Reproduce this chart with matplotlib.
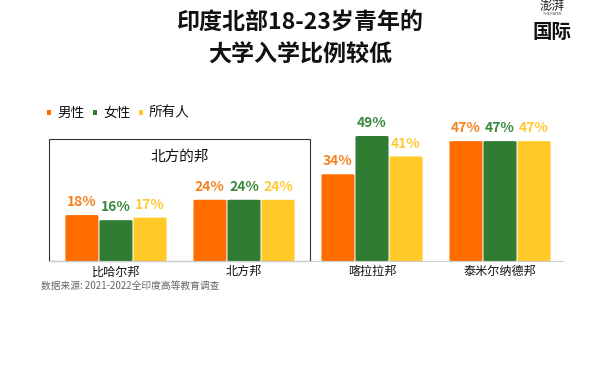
import matplotlib
matplotlib.use("Agg")
import matplotlib.pyplot as plt
from matplotlib.patches import Rectangle, FancyBboxPatch
import numpy as np

plt.rcParams['font.family'] = ['Noto Sans CJK SC', 'DejaVu Sans']

categories = ["比哈尔邦", "北方邦", "喀拉拉邦", "泰米尔纳德邦"]
series_names = ["男性", "女性", "所有人"]
male = [18, 24, 34, 47]
female = [16, 24, 49, 47]
everyone = [17, 24, 41, 47]

bar_colors = ["#FF6D00", "#2E7D32", "#FFCA28"]
text_colors = ["#F5821F", "#3A8A3E", "#FFC933"]

fig = plt.figure(figsize=(6.0, 3.65), dpi=100)
ax = fig.add_axes([49/600, 0.285, 514/600, 140.25/365])
ax.set_xlim(-0.523, 3.492)
ax.set_ylim(0, 55)
ax.axis('off')

x = np.arange(len(categories))
w = 0.258
off = 0.266
for k, vals in enumerate([male, female, everyone]):
    xs = x + (k - 1) * off
    for xi, v in zip(xs, vals):
        p = FancyBboxPatch((xi - w/2, 0), w, v,
                           boxstyle="round,pad=0,rounding_size=0.015",
                           mutation_aspect=1/0.04,
                           facecolor=bar_colors[k], edgecolor='none')
        ax.add_patch(p)
        ax.text(xi, v + 2.3, f"{v}%", ha='center', va='bottom',
                fontsize=10, fontweight='bold', color=text_colors[k])

# baseline
ax.plot([-0.523, 3.492], [0, 0], color='#CCCCCC', lw=0.8, clip_on=False)

# box around northern states
box = Rectangle((-0.523, 0), 1.516 + 0.523, 47.8, fill=False,
                edgecolor='#333333', lw=0.8, clip_on=False)
ax.add_patch(box)
ax.text((-0.523 + 1.516) / 2, 40.7, "北方的邦", ha='center', va='center',
        fontsize=10.5, color='#111111')

# category labels
for xi, c in zip(x, categories):
    ax.text(xi, -1.7, c, ha='center', va='top', fontsize=8.7, color='#111111')

# title
fig.text(300/600, 1 - 22.5/365, "印度北部18-23岁青年的", ha='center', va='center',
         fontsize=16.6, fontweight='heavy', color='#111111')
fig.text(300/600, 1 - 55/365, "大学入学比例较低", ha='center', va='center',
         fontsize=16.6, fontweight='heavy', color='#111111')

# logo text
fig.text(552/600, 1 - 32/365, "国际", ha='center', va='center',
         fontsize=14, fontweight='heavy', color='#111111')
fig.text(552/600, 1 - 6/365, "澎湃", ha='center', va='center',
         fontsize=9, color='#222222', style='italic')
fig.text(552/600, 1 - 14/365, "THE PAPER", ha='center', va='center',
         fontsize=2.5, color='#444444')

# legend
lx = [47, 93, 139]
for k, name in enumerate(series_names):
    fig.patches.append(Rectangle((lx[k]/600, 1 - 115/365), 4/600, 4.5/365,
                                 transform=fig.transFigure,
                                 facecolor=bar_colors[k], edgecolor='none'))
    fig.text((lx[k] + 10)/600, 1 - 113/365, name, ha='left', va='center',
             fontsize=9.8, fontweight='medium', color='#111111')

# source
fig.text(41/600, 1 - 286/365, "数据来源: 2021-2022全印度高等教育调查",
         ha='left', va='center', fontsize=7, color='#666666')

fig.savefig("out.png", dpi=100)
